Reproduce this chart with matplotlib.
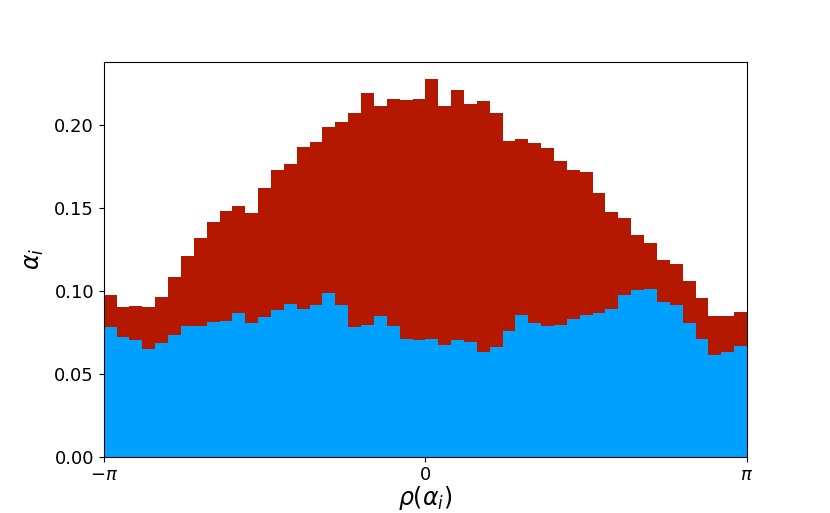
import numpy as np
import matplotlib
matplotlib.use("Agg")
import matplotlib.pyplot as plt

# histogram heights, 50 bins over [-pi, pi]
red_vals = [0.0971, 0.0900, 0.0909, 0.0900, 0.0961, 0.1080, 0.1207, 0.1315, 0.1416, 0.1477,
            0.1509, 0.1470, 0.1617, 0.1728, 0.1760, 0.1863, 0.1897, 0.1984, 0.2014, 0.2069,
            0.2190, 0.2115, 0.2153, 0.2151, 0.2155, 0.2274, 0.2113, 0.2208, 0.2123, 0.2141,
            0.2069, 0.1900, 0.1915, 0.1888, 0.1861, 0.1783, 0.1724, 0.1716, 0.1591, 0.1474,
            0.1440, 0.1332, 0.1289, 0.1184, 0.1162, 0.1057, 0.0955, 0.0846, 0.0846, 0.0872]
blue_vals = [0.0778, 0.0719, 0.0701, 0.0651, 0.0687, 0.0735, 0.0784, 0.0786, 0.0810, 0.0818,
             0.0866, 0.0802, 0.0838, 0.0884, 0.0917, 0.0888, 0.0911, 0.0987, 0.0912, 0.0780,
             0.0792, 0.0844, 0.0786, 0.0707, 0.0701, 0.0711, 0.0675, 0.0701, 0.0689, 0.0628,
             0.0663, 0.0755, 0.0854, 0.0802, 0.0786, 0.0790, 0.0826, 0.0854, 0.0864, 0.0892,
             0.0975, 0.1001, 0.1007, 0.0930, 0.0915, 0.0802, 0.0711, 0.0613, 0.0633, 0.0669]

edges = np.linspace(-np.pi, np.pi, len(red_vals) + 1)

fig, ax = plt.subplots(figsize=(8.3, 5.13), dpi=100)

ax.stairs(red_vals, edges, fill=True, color='#b41900')
ax.stairs(blue_vals, edges, fill=True, color='#00a0ff')

ax.set_xlim(-np.pi, np.pi)
ax.set_ylim(0, 0.238)
ax.set_xticks([-np.pi, 0, np.pi])
ax.set_xticklabels([r'$-\pi$', r'$0$', r'$\pi$'])
ax.set_yticks([0, 0.05, 0.10, 0.15, 0.20])
ax.set_yticklabels(['0.00', '0.05', '0.10', '0.15', '0.20'])
ax.tick_params(labelsize=13)
ax.set_xlabel(r'$\rho(\alpha_i)$', fontsize=17, labelpad=0)
ax.set_ylabel(r'$\alpha_i$', fontsize=17, labelpad=6)

fig.savefig("out.png", dpi=100)
